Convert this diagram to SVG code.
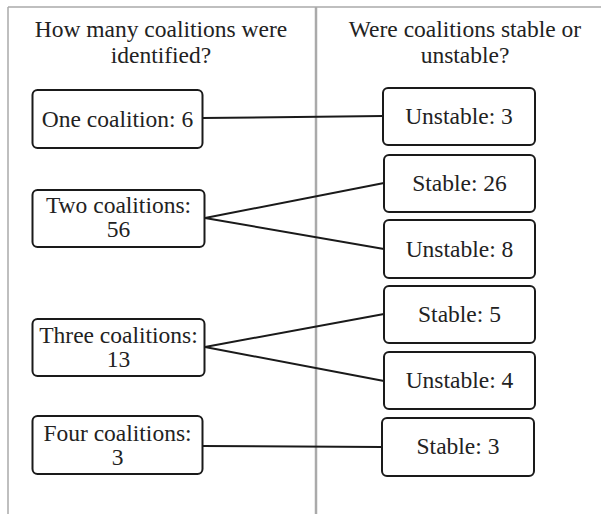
<svg xmlns="http://www.w3.org/2000/svg" width="601" height="514" viewBox="0 0 601 514">
<style>
.frame{stroke:#aaaaaa;stroke-width:1.5;fill:none}
.div{stroke:#aaaaaa;stroke-width:2.5;fill:none}
.box{fill:#ffffff;stroke:#1a1a1a;stroke-width:2}
.conn{stroke:#1a1a1a;stroke-width:2;fill:none}
.t{font-size:23.5px;fill:#222;text-anchor:middle}
</style>
<rect width="601" height="514" fill="#ffffff"/>
<g id="frame">
<line class="frame" x1="8" y1="7" x2="601" y2="7"/>
<line class="frame" x1="8" y1="7" x2="8" y2="514"/>
<line class="div" x1="316" y1="7" x2="316" y2="514"/>
</g>
<g font-family="'Liberation Serif', 'DejaVu Serif', serif">
<g id="headers">
<text class="t" x="161" y="37">How many coalitions were</text>
<text class="t" x="161" y="63">identified?</text>
<text class="t" x="465" y="37">Were coalitions stable or</text>
<text class="t" x="465" y="63">unstable?</text>
</g>
<g id="connectors">
<line class="conn" x1="202" y1="118" x2="383" y2="116"/>
<line class="conn" x1="205" y1="218" x2="384" y2="183"/>
<line class="conn" x1="205" y1="218" x2="384" y2="249"/>
<line class="conn" x1="205" y1="347" x2="384" y2="314"/>
<line class="conn" x1="205" y1="347" x2="384" y2="381"/>
<line class="conn" x1="202" y1="446" x2="382" y2="447"/>
</g>
<g id="one">
<rect class="box" x="32.5" y="90" width="170" height="58" rx="5"/>
<text class="t" x="117.5" y="127">One coalition: 6</text>
</g>
<g id="two">
<rect class="box" x="32.5" y="190" width="172" height="57" rx="5"/>
<text class="t" x="118.5" y="213">Two coalitions:</text>
<text class="t" x="118.5" y="237">56</text>
</g>
<g id="three">
<rect class="box" x="32.5" y="319" width="172" height="57" rx="5"/>
<text class="t" x="118.5" y="343">Three coalitions:</text>
<text class="t" x="118.5" y="367">13</text>
</g>
<g id="four">
<rect class="box" x="32.5" y="416" width="170" height="58" rx="5"/>
<text class="t" x="117.5" y="441">Four coalitions:</text>
<text class="t" x="117.5" y="465">3</text>
</g>
<g id="unstable3">
<rect class="box" x="383" y="88" width="152" height="57" rx="5"/>
<text class="t" x="459" y="124">Unstable: 3</text>
</g>
<g id="stable26">
<rect class="box" x="384" y="155" width="151" height="57" rx="5"/>
<text class="t" x="459.5" y="191">Stable: 26</text>
</g>
<g id="unstable8">
<rect class="box" x="384" y="220" width="151" height="58" rx="5"/>
<text class="t" x="459.5" y="257">Unstable: 8</text>
</g>
<g id="stable5">
<rect class="box" x="384" y="286" width="151" height="57" rx="5"/>
<text class="t" x="459.5" y="322">Stable: 5</text>
</g>
<g id="unstable4">
<rect class="box" x="384" y="352" width="151" height="57" rx="5"/>
<text class="t" x="459.5" y="388">Unstable: 4</text>
</g>
<g id="stable3">
<rect class="box" x="382" y="418" width="152" height="58" rx="5"/>
<text class="t" x="458" y="454">Stable: 3</text>
</g>
</g>
</svg>
